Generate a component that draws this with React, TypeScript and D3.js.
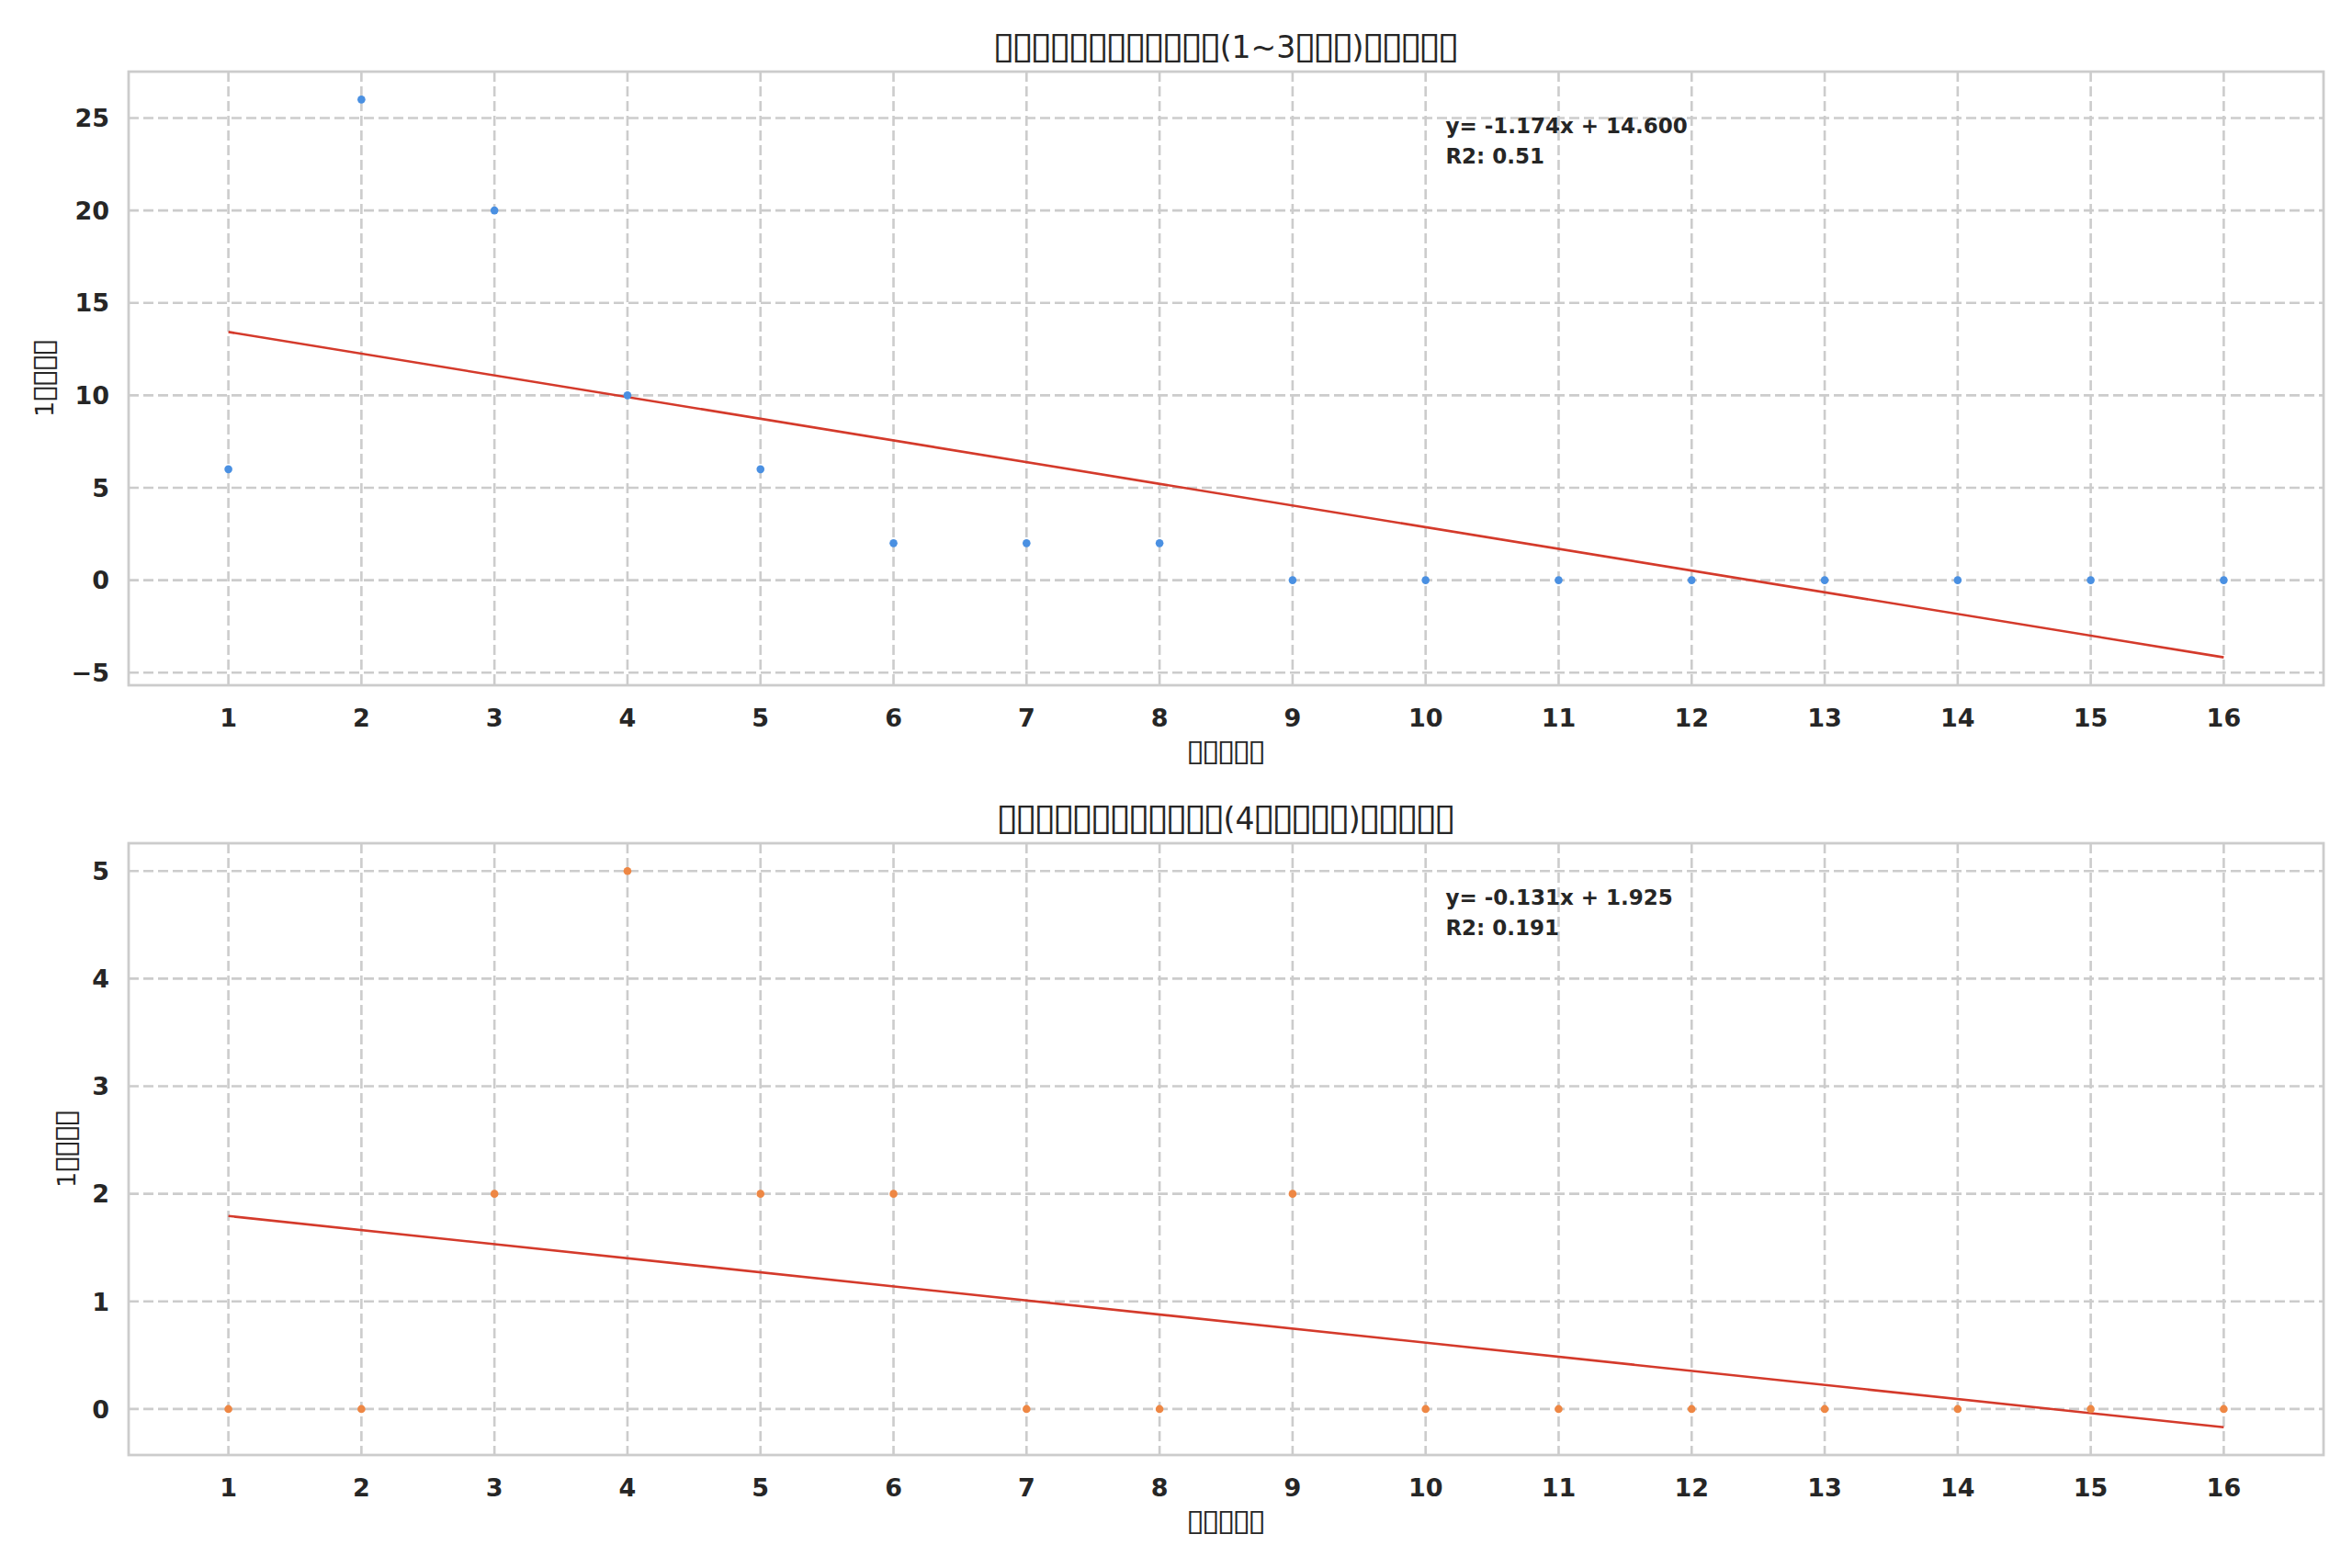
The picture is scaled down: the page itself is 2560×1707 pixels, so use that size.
import * as d3 from 'd3'

// x categories and the two series
const weeks = [1, 2, 3, 4, 5, 6, 7, 8, 9, 10, 11, 12, 13, 14, 15, 16]
const countsEarly = [6, 26, 20, 10, 6, 2, 2, 2, 0, 0, 0, 0, 0, 0, 0, 0]
const countsLate = [0, 0, 2, 5, 2, 2, 0, 0, 2, 0, 0, 0, 0, 0, 0, 0]

const yTicksEarly = [-5, 0, 5, 10, 15, 20, 25]
const yTicksLate = [0, 1, 2, 3, 4, 5]

// the source text shows up as missing-glyph boxes
const titleEarly = '▯▯▯▯▯▯▯▯▯▯▯▯(1~3▯▯▯)▯▯▯▯▯'
const titleLate = '▯▯▯▯▯▯▯▯▯▯▯▯(4▯▯▯▯▯)▯▯▯▯▯'
const xLabel = '▯▯▯▯▯'
const yLabel = '1▯▯▯▯'

const W = 2560
const H = 1707
const LEFT = 140
const RIGHT = 2529
const FONT = '"DejaVu Sans", sans-serif'
const INK = '#262626'
const GRID = '#cccccc'
const LINE = '#d43a2b'

const ctx = document.createElement('canvas').getContext('2d')

function measure(str: string, size: number) {
  if (!ctx) return { width: str.length * 0.6 * size, left: 0, ascent: 0.76 * size, descent: 0 }
  ctx.font = `${size}px "DejaVu Sans"`
  const m = ctx.measureText(str)
  return {
    width: m.width,
    left: m.actualBoundingBoxLeft,
    right: m.actualBoundingBoxRight,
    ascent: m.actualBoundingBoxAscent,
    descent: m.actualBoundingBoxDescent,
  }
}

// text with tofu-like boxes: tall narrow boxes, 0.62em advance
function BoxText({ str, size, transform }: { str: string; size: number; transform: string }) {
  const parts = str.match(/▯+|[^▯]+/g) || []
  const adv = 0.62 * size
  const g = measure('▯', 100)
  const gh = g.ascent + g.descent || 76
  const F = (0.95 * size / gh) * 100
  const inkW = ((g.left + (g.right ?? 60)) * F) / 100 || 0.5 * size
  const sx = (0.5 * size) / inkW
  const dy = 0.15 * size - (g.descent * F) / 100

  const items: JSX.Element[] = []
  let cursor = 0
  parts.forEach((p, i) => {
    if (p[0] === '▯') {
      for (let k = 0; k < p.length; k++) {
        const inkLeft = cursor + 0.06 * size
        const x0 = inkLeft + ((g.left * F) / 100) * sx
        items.push(
          <text key={i + '-' + k} transform={`translate(${x0},${dy}) scale(${sx},1)`}
            fontSize={F}>▯</text>
        )
        cursor += adv
      }
    } else {
      items.push(<text key={i} x={cursor} fontSize={size}>{p}</text>)
      cursor += measure(p, size).width
    }
  })

  return (
    <g transform={transform} fontFamily={FONT} fill={INK}>
      <g transform={`translate(${-cursor / 2},0)`}>{items}</g>
    </g>
  )
}

function fitLine(xs: number[], ys: number[]) {
  const mx = d3.mean(xs) as number
  const my = d3.mean(ys) as number
  let sxy = 0, sxx = 0, syy = 0
  xs.forEach((x, i) => {
    sxy += (x - mx) * (ys[i] - my)
    sxx += (x - mx) ** 2
    syy += (ys[i] - my) ** 2
  })
  const slope = sxy / sxx
  const intercept = my - slope * mx
  const r2 = (sxy * sxy) / (sxx * syy)
  return { slope, intercept, r2 }
}

interface PanelProps {
  top: number
  bottom: number
  values: number[]
  yTicks: number[]
  color: string
  title: string
  yLabelX: number
}

function Panel({ top, bottom, values, yTicks, color, title, yLabelX }: PanelProps) {
  const { slope, intercept, r2 } = fitLine(weeks, values)
  const x0 = weeks[0]
  const x1 = weeks[weeks.length - 1]
  const lineEnds = [intercept + slope * x0, intercept + slope * x1]

  const xPad = (x1 - x0) * 0.05
  const x = d3.scaleLinear().domain([x0 - xPad, x1 + xPad]).range([LEFT, RIGHT])

  const lo = d3.min([...values, ...lineEnds]) as number
  const hi = d3.max([...values, ...lineEnds]) as number
  const yPad = (hi - lo) * 0.05
  const y = d3.scaleLinear().domain([lo - yPad, hi + yPad]).range([bottom, top])

  const fmt = d3.format('d')
  const line = d3.line<number>().x(d => x(d)).y(d => y(intercept + slope * d))

  const eq = `y= ${slope.toFixed(3)}x + ${intercept.toFixed(3)}`
  const r2Text = `R2: ${Number(r2.toFixed(3))}`
  const cx = (LEFT + RIGHT) / 2
  const cy = (top + bottom) / 2

  return (
    <g>
      {/* grid */}
      {weeks.map(w => (
        <line key={'gx' + w} x1={x(w)} x2={x(w)} y1={top} y2={bottom}
          stroke={GRID} strokeWidth={2.6} strokeDasharray="11,5" />
      ))}
      {yTicks.map(t => (
        <line key={'gy' + t} x1={LEFT} x2={RIGHT} y1={y(t)} y2={y(t)}
          stroke={GRID} strokeWidth={2.6} strokeDasharray="11,5" />
      ))}

      {/* regression line */}
      <path d={line([x0, x1]) as string} fill="none" stroke={LINE} strokeWidth={2.6} />

      {/* points */}
      {values.map((v, i) => (
        <circle key={'p' + i} cx={x(weeks[i])} cy={y(v)} r={4.3} fill={color} />
      ))}

      {/* frame */}
      <rect x={LEFT} y={top} width={RIGHT - LEFT} height={bottom - top}
        fill="none" stroke={GRID} strokeWidth={2.8} />

      {/* tick labels */}
      {weeks.map(w => (
        <text key={'tx' + w} x={x(w)} y={bottom + 45} textAnchor="middle"
          fontFamily={FONT} fontWeight="bold" fontSize={27} fill={INK}>{w}</text>
      ))}
      {yTicks.map(t => (
        <text key={'ty' + t} x={LEFT - 21} y={y(t)} dy="0.36em" textAnchor="end"
          fontFamily={FONT} fontWeight="bold" fontSize={27} fill={INK}>{fmt(t)}</text>
      ))}

      {/* annotation */}
      <text x={LEFT + 0.6 * (RIGHT - LEFT)} y={top + 67} fontFamily={FONT}
        fontWeight="bold" fontSize={23} fill={INK}>{eq}</text>
      <text x={LEFT + 0.6 * (RIGHT - LEFT)} y={top + 100} fontFamily={FONT}
        fontWeight="bold" fontSize={23} fill={INK}>{r2Text}</text>

      {/* titles and axis labels */}
      <BoxText str={title} size={33} transform={`translate(${cx},${top - 15})`} />
      <BoxText str={xLabel} size={27} transform={`translate(${cx},${bottom + 82})`} />
      <BoxText str={yLabel} size={27}
        transform={`translate(${yLabelX},${cy}) rotate(-90)`} />
    </g>
  )
}

export default function App() {
  return (
    <svg width={W} height={H} viewBox={`0 0 ${W} ${H}`}
      style={{ position: 'absolute', left: 0, top: 0, background: '#fff' }}>
      <rect width={W} height={H} fill="#fff" />
      <Panel top={78} bottom={746} values={countsEarly} yTicks={yTicksEarly}
        color="#4a90e2" title={titleEarly} yLabelX={58} />
      <Panel top={918} bottom={1584} values={countsLate} yTicks={yTicksLate}
        color="#ee8744" title={titleLate} yLabelX={82} />
    </svg>
  )
}
